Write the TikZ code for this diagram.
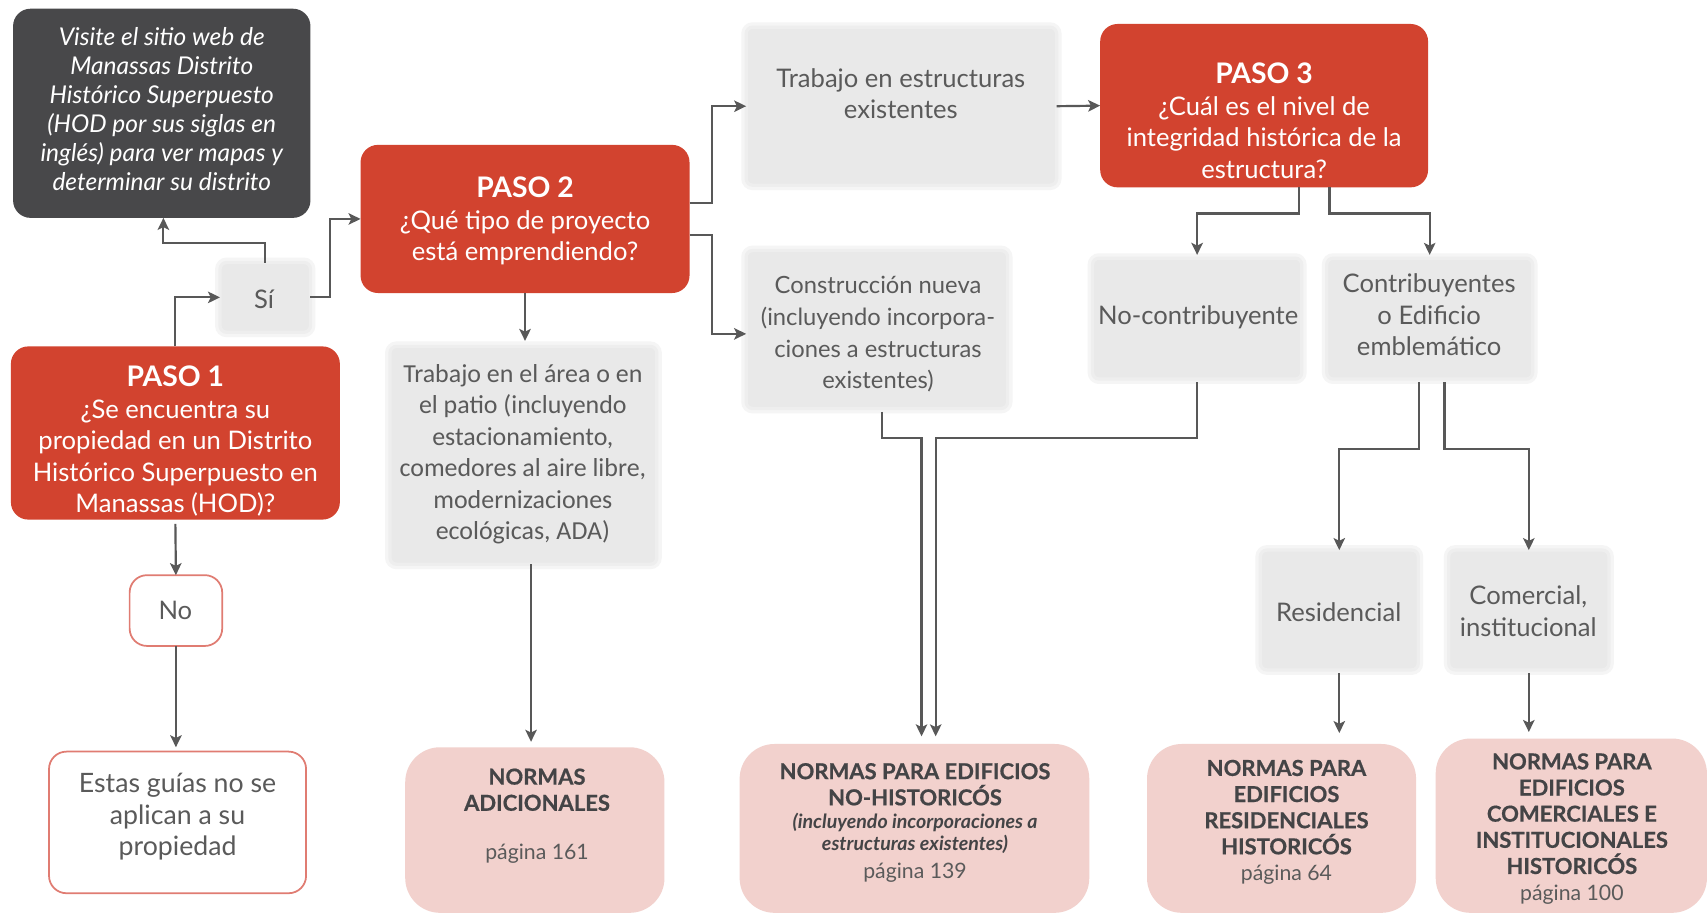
\documentclass[tikz,border=0pt]{standalone}
\usepackage{fontspec}
\setmainfont{Lato}
\newfontfamily\carl{Carlito}
\usetikzlibrary{arrows.meta,calc}
\definecolor{pasored}{HTML}{D2432F}
\definecolor{pinkbg}{HTML}{F2D1CD}
\definecolor{boxgray}{HTML}{E9E9E9}
\definecolor{darkbg}{HTML}{48484A}
\definecolor{txtgray}{HTML}{5A5A5A}
\definecolor{normtxt}{HTML}{444446}
\definecolor{borderred}{HTML}{E07C72}
\definecolor{linegray}{HTML}{585858}
\newcommand\pasofnt{\bfseries\fontsize{26}{29}\selectfont}
\begin{document}
\begin{tikzpicture}[x=1pt,y=-1pt,
  shape base/.style={rectangle, inner sep=0pt, outer sep=0pt},
  redbox/.style={shape base, fill=pasored, rounded corners=16pt},
  darkbox/.style={shape base, fill=darkbg, rounded corners=16pt},
  graybox/.style={shape base, fill=boxgray, rounded corners=6pt,
    preaction={draw=boxgray!45!white, line width=9pt, rounded corners=6pt},
    draw=boxgray!75!white, line width=3pt},
  pinkbox/.style={shape base, fill=pinkbg, rounded corners=32pt},
  linebox/.style={shape base, fill=white, draw=borderred, line width=1.6pt, rounded corners=16pt},
  whitetxt/.style={text=white, align=center, inner sep=0pt, font=\fontsize{23.5}{29}\selectfont},
  darktxt/.style={text=white, align=center, inner sep=0pt, font=\itshape\fontsize{22.5}{26.6}\selectfont},
  graytxt/.style={text=txtgray, align=center, inner sep=0pt, font=\fontsize{23.5}{29}\selectfont},
  normhead/.style={text=normtxt, align=center, inner sep=0pt, font=\bfseries\addfontfeature{FakeBold=0.6}\fontsize{20.2}{24}\selectfont},
  normpage/.style={text=txtgray, align=center, inner sep=0pt, font=\fontsize{19.5}{24}\selectfont},
  normital/.style={text=normtxt, align=center, inner sep=0pt, font=\bfseries\itshape\fontsize{18}{21}\selectfont},
  arr/.style={draw=linegray, line width=2pt, -{Stealth[length=11pt,width=10.5pt,inset=2.5pt]}}
]
\useasboundingbox (0,0) rectangle (1568,840);
\fill[white] (0,0) rectangle (1568,840);
\begin{scope}
\clip (0,0) rectangle (1568,840);

% ---------- boxes ----------
\node[darkbox, minimum width=273pt, minimum height=192pt] (darkb) at (148.5,104) {};
\node[graybox, minimum width=83pt, minimum height=64pt] (sib) at (243.5,273) {};
\node[redbox, minimum width=302pt, minimum height=136pt] (p2b) at (482,201) {};
\node[redbox, minimum width=302pt, minimum height=159pt] (p1b) at (161,397.5) {};
\node[linebox, minimum width=85pt, minimum height=65pt] (nob) at (161.5,560.5) {};
\node[linebox, minimum width=236pt, minimum height=130pt] (esb) at (163,755) {};
\node[graybox, minimum width=245pt, minimum height=200pt] (tab) at (480.5,418) {};
\node[pinkbox, minimum width=238pt, minimum height=152pt] (nadb) at (491,762) {};
\node[graybox, minimum width=285pt, minimum height=145pt] (tesb) at (827.5,97.5) {};
\node[redbox, minimum width=301pt, minimum height=150pt] (p3b) at (1160.5,97) {};
\node[graybox, minimum width=240pt, minimum height=145pt] (cnb) at (805,302.5) {};
\node[graybox, minimum width=192pt, minimum height=111pt] (ncb) at (1099,292.5) {};
\node[graybox, minimum width=189pt, minimum height=111pt] (ceb) at (1312.5,292.5) {};
\node[graybox, minimum width=145pt, minimum height=110pt] (resb) at (1229.5,560) {};
\node[graybox, minimum width=147pt, minimum height=110pt] (cob) at (1403.5,560) {};
\node[pinkbox, minimum width=321pt, minimum height=155pt] (nnhb) at (839.5,760.5) {};
\node[pinkbox, minimum width=247pt, minimum height=155pt] (rhb) at (1176.5,760.5) {};
\node[pinkbox, minimum width=249pt, minimum height=160pt] (cmb) at (1442.5,758) {};

% ---------- texts ----------
\node[darktxt] (darkt) at (148.5,100) {Visite el sitio web de\\Manassas Distrito\\Histórico Superpuesto\\(HOD por sus siglas en\\inglés) para ver mapas y\\determinar su distrito};
\node[graytxt] (sit) at (242.5,275) {Sí};
\node[whitetxt] (p2t) at (482,203) {{\pasofnt PASO 2}\\¿Qué tipo de proyecto\\está emprendiendo?};
\node[whitetxt] (p1t) at (161,405) {{\pasofnt PASO 1}\\¿Se encuentra su\\propiedad en un Distrito\\Histórico Superpuesto en\\Manassas (HOD)?};
\node[graytxt] (not) at (161,560) {No};
\node[graytxt, font=\fontsize{24.5}{29}\selectfont] (est) at (163,750) {Estas guías no se\\aplican a su\\propiedad};
\node[graytxt, font=\carl\fontsize{23.8}{29}\selectfont] (tat) at (480,417) {Trabajo en el área o en\\el patio (incluyendo\\estacionamiento,\\comedores al aire libre,\\modernizaciones\\ecológicas, ADA)};
\node[normhead] (nadt) at (493,725) {NORMAS\\ADICIONALES};
\node[normpage] (nadp) at (493,784) {página 161};
\node[graytxt] (test) at (827,86) {Trabajo en estructuras\\existentes};
\node[whitetxt] (p3t) at (1160.5,111) {{\pasofnt PASO 3}\\¿Cuál es el nivel de\\integridad histórica de la\\estructura?};
\node[graytxt, font=\fontsize{21.8}{29}\selectfont] (cnt) at (806,307) {Construcción nueva\\(incluyendo incorpora-\\ciones a estructuras\\existentes)};
\node[graytxt] (nct) at (1100,291) {No-contribuyente};
\node[graytxt] (cet) at (1312,289) {Contribuyentes\\o Edificio\\emblemático};
\node[graytxt] (rest) at (1229,562) {Residencial};
\node[graytxt] (cot) at (1403,561) {Comercial,\\institucional};
\node[normhead] (nnht) at (840,720) {NORMAS PARA EDIFICIOS\\NO-HISTORICÓS};
\node[normital] (nnhi) at (840,765) {(incluyendo incorporaciones a\\estructuras existentes)};
\node[normpage] (nnhp) at (840,801) {página 139};
\node[normhead] (rht) at (1181,741) {NORMAS PARA\\EDIFICIOS\\RESIDENCIALES\\HISTORICÓS};
\node[normpage] (rhp) at (1181,803) {página 64};
\node[normhead] (cmt) at (1443,747) {NORMAS PARA\\EDIFICIOS\\COMERCIALES E\\INSTITUCIONALES\\HISTORICÓS};
\node[normpage] (cmp) at (1443,821) {página 100};

% ---------- junction / anchor coordinates ----------
\coordinate (j1) at (846,402);
\coordinate (j2) at (859,402);
\coordinate (p2s) at (p2b.south);
\coordinate (tan) at ($(p2s |- tab.north)+(0,-5)$);
\coordinate (tas) at ($(tab.south)+(7,0)$);
\coordinate (nadn) at ($(tas |- nadb.north)+(0,-5)$);

% ---------- connectors ----------
\draw[arr] (p1b.north) |- (sib.west);
\draw[arr] (sib.north) -- ++(0,-18) -| ([xshift=1.5pt]darkb.south);
\draw[arr] (sib.east) -- ++(18,0) |- (p2b.west);
\draw[arr] ([yshift=15pt]p2b.east) -- ++(21,0) |- (tesb.west);
\draw[arr] ([yshift=-15pt]p2b.east) -- ++(21,0) |- ([yshift=-4pt]cnb.west);
\draw[arr] (p2s) -- (tan);
\draw[arr] (tas) -- (nadn);
\draw[arr] (tesb.east) -- (p3b.west);
\draw[arr] ([xshift=32pt]p3b.south) -- ++(0,24) -| ([yshift=3pt]ncb.north);
\draw[arr] ([xshift=60pt]p3b.south) -- ++(0,24) -| ([yshift=3pt]ceb.north);
\draw[arr, shorten >=7pt] ([xshift=5pt,yshift=-3pt]cnb.south) |- (j1) -- (j1 |- nnhb.north);
\draw[arr, shorten >=7pt] ([yshift=-3pt]ncb.south) |- (j2) -- (j2 |- nnhb.north);
\draw[arr] ([xshift=-9.5pt,yshift=-3pt]ceb.south) -- ++(0,61) -| (resb.north);
\draw[arr] ([xshift=13.5pt,yshift=-3pt]ceb.south) -- ++(0,61) -| (cob.north);
\draw[arr, shorten >=10pt] ([yshift=-3pt]resb.south) -- (resb.south |- rhb.north);
\draw[arr, shorten >=6pt] ([yshift=-3pt]cob.south) -- (cob.south |- cmb.north);
\draw[arr] ([yshift=-4pt]p1b.south) -- (nob.north);
\draw[arr, shorten >=4pt] (nob.south) -- (nob.south |- esb.north);
\end{scope}
\end{tikzpicture}
\end{document}
